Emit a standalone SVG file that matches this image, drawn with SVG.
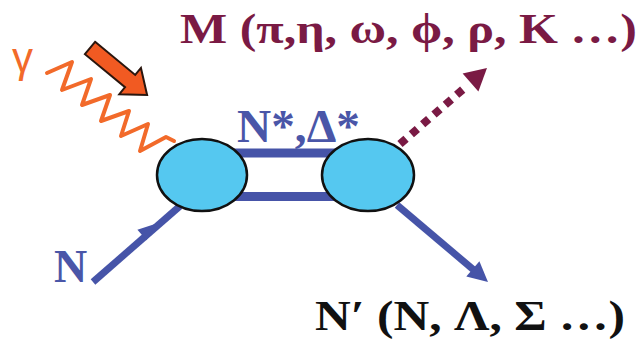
<svg xmlns="http://www.w3.org/2000/svg" width="644" height="340" viewBox="0 0 644 340">
<style>
.lbl{font-family:"Liberation Serif","Times New Roman",serif;font-weight:bold}
.blue{fill:#4654a8}
.bl{stroke:#4654a8;stroke-width:7;fill:none}
.ell{fill:#55c8f0;stroke:#111;stroke-width:2.5}
</style>
<rect width="644" height="340" fill="#fff"/>
<g id="connectors">
  <rect x="232" y="148.5" width="110" height="9" class="blue"/>
  <rect x="232" y="192" width="110" height="9" class="blue"/>
  <polyline points="47,73 72,62 62,90 91,79 82,105 110,95 101,121 129,111 121,136 148,124 140,151 166,137 174,141" fill="none" stroke="#f26a2a" stroke-width="4" stroke-linejoin="round" stroke-linecap="round"/>
  <line x1="93" y1="282" x2="180" y2="206" class="bl"/>
  <polygon points="155,224 146.6,240.3 137.4,229.8" class="blue"/>
  <line x1="397" y1="205" x2="475" y2="271" class="bl"/>
  <polygon points="488,282 466.3,276.5 479.4,261.3" class="blue"/>
  <line x1="400" y1="144" x2="468" y2="85" stroke="#7a1a44" stroke-width="8" stroke-dasharray="8 7"/>
  <polygon points="487,68 478.4,91.5 462.6,73.5" fill="#7a1a44"/>
</g>
<g id="photon-arrow">
  <polygon points="0,-8 52,-8 52,-17 74,0 52,17 52,8 0,8" transform="translate(90,48) rotate(39.5)" fill="#f15a22" stroke="#2a160e" stroke-width="2" stroke-linejoin="miter"/>
</g>
<g id="vertex-left"><ellipse cx="202" cy="175" rx="45" ry="36" class="ell"/></g>
<g id="vertex-right"><ellipse cx="368" cy="175" rx="46" ry="36" class="ell"/></g>
<g id="label-gamma"><text x="12" y="72" font-family="Liberation Sans, Arial, sans-serif" font-size="42" fill="#f26a2a">γ</text></g>
<g id="label-M"><text x="180" y="43" class="lbl" font-size="42" fill="#7a1a44" textLength="457" lengthAdjust="spacingAndGlyphs">M (π,η, ω, ϕ, ρ, K …)</text></g>
<g id="label-res"><text x="237" y="142" class="lbl" font-size="46" fill="#4a56a8" textLength="123" lengthAdjust="spacingAndGlyphs">N*,Δ*</text></g>
<g id="label-N"><text x="54" y="282" class="lbl" font-size="46" fill="#4a56a8">N</text></g>
<g id="label-Nprime"><text x="315" y="330" class="lbl" font-size="42" fill="#111" textLength="310" lengthAdjust="spacingAndGlyphs">N′ (N, Λ, Σ …)</text></g>
</svg>
